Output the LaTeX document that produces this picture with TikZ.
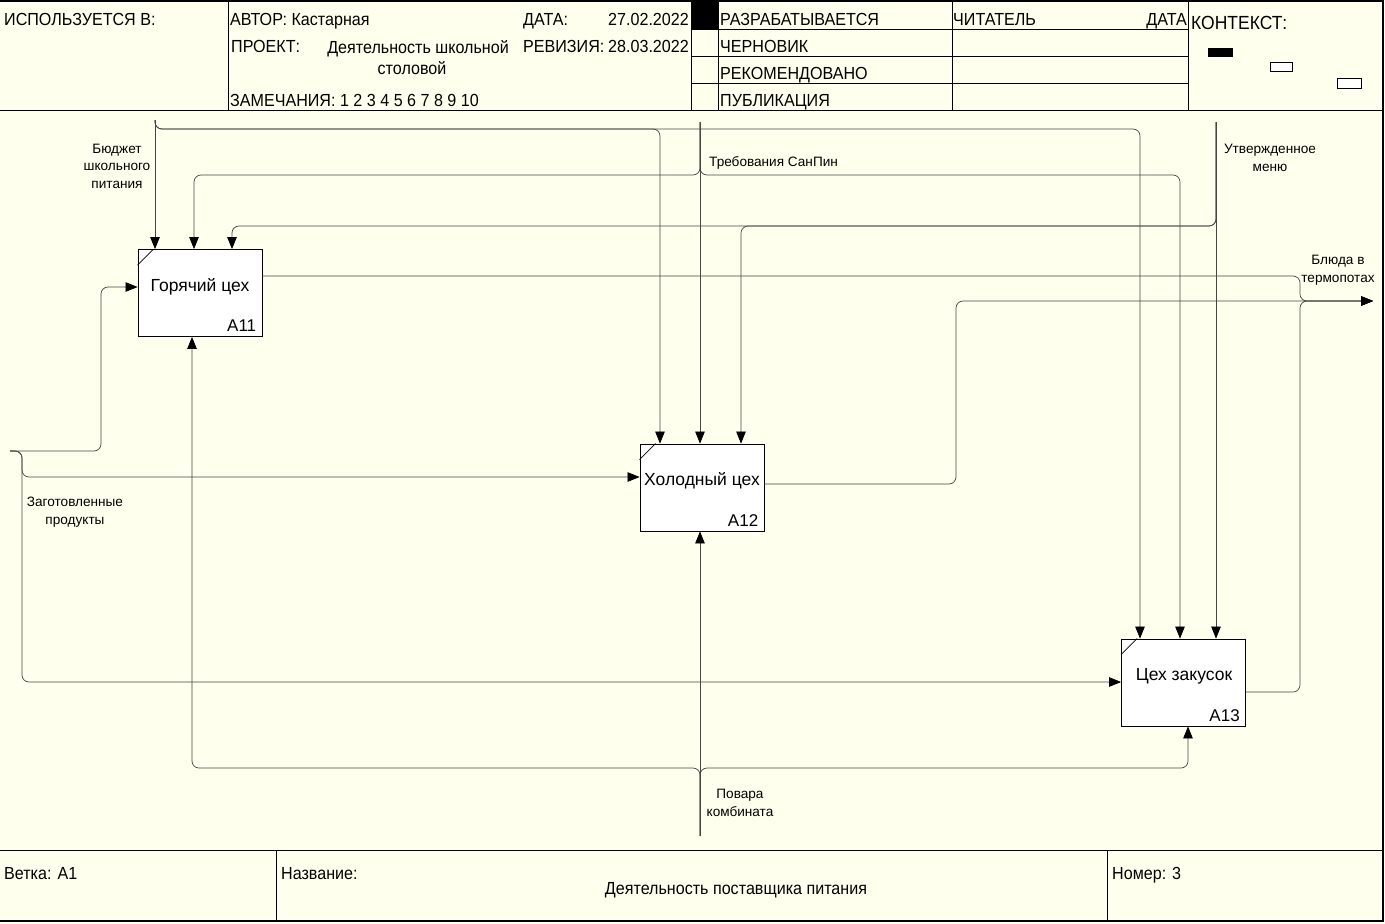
\documentclass[tikz,border=0pt]{standalone}
\usepackage{fontspec}
\setmainfont{Liberation Sans}
\newfontfamily\hdr[FakeStretch=0.92]{Liberation Sans}
\usetikzlibrary{arrows.meta}
\definecolor{bg}{RGB}{255,255,238}
\definecolor{ln}{RGB}{70,70,70}
\tikzset{
  frameline/.style={draw=black, line width=1.6pt},
  thinframe/.style={draw=black, line width=1pt},
  hdrtext/.style={inner sep=0pt, font=\hdr\fontsize{17.5}{20}\selectfont},
  ctxtext/.style={inner sep=0pt, font=\hdr\fontsize{19}{22}\selectfont},
  actbox/.style={draw=black, fill=white, line width=0.8pt, minimum width=124pt, minimum height=87pt, inner sep=0pt},
  boxname/.style={inner sep=0pt, font=\fontsize{17.5}{20}\selectfont},
  boxnum/.style={inner sep=0pt, font=\fontsize{17}{20}\selectfont, anchor=south east},
  arrlabel/.style={inner sep=0pt, align=center, font=\fontsize{13.6}{17.5}\selectfont},
  conn/.style={draw=ln, line width=0.7pt, rounded corners=7pt},
  arr/.style={conn, -{Triangle[length=12pt,width=9.5pt,color=black]}},
}
\begin{document}
\begin{tikzpicture}[x=1pt,y=-1pt]
\useasboundingbox (0,0) rectangle (1385,924);
\fill[bg] (0,0) rectangle (1385,924);

% ---------- frame ----------
\draw[frameline] (0,1) -- (1383,1) -- (1383,921) -- (0,921);
\draw[thinframe] (0,110) -- (1383,110);
\draw[thinframe] (228,1) -- (228,110);
\draw[thinframe] (691,1) -- (691,110);
\draw[thinframe] (718,1) -- (718,110);
\draw[thinframe] (952,1) -- (952,110);
\draw[thinframe] (1188,1) -- (1188,110);
\draw[thinframe] (691,29) -- (1188,29);
\draw[thinframe] (691,56) -- (1188,56);
\draw[thinframe] (691,83) -- (1188,83);
\fill[black] (691,1) rectangle (718,29);
% footer
\draw[thinframe] (0,850) -- (1383,850);
\draw[thinframe] (276,850) -- (276,921);
\draw[thinframe] (1107,850) -- (1107,921);

% ---------- header texts ----------
\node[hdrtext, anchor=base west] (used) at (4,25) {ИСПОЛЬЗУЕТСЯ В:};
\node[hdrtext, anchor=base west] (author) at (230,25) {АВТОР: Кастарная};
\node[hdrtext, anchor=base west] (datel) at (523,25) {ДАТА:};
\node[hdrtext, anchor=base east] (datev) at (689,25) {27.02.2022};
\node[hdrtext, anchor=base west] (projl) at (231,52) {ПРОЕКТ:};
\node[hdrtext, anchor=base east] (projv) at (509,53) {Деятельность школьной};
\node[hdrtext, anchor=base] (projv2) at (412,74) {столовой};
\node[hdrtext, anchor=base west] (rev) at (523,52) {РЕВИЗИЯ:};
\node[hdrtext, anchor=base east] (revv) at (689,52) {28.03.2022};
\node[hdrtext, anchor=base west] (notes) at (230,106) {ЗАМЕЧАНИЯ: 1 2 3 4 5 6 7 8 9 10};
\node[hdrtext, anchor=base west] (st1) at (720,25) {РАЗРАБАТЫВАЕТСЯ};
\node[hdrtext, anchor=base west] (st2) at (720,52) {ЧЕРНОВИК};
\node[hdrtext, anchor=base west] (st3) at (720,79) {РЕКОМЕНДОВАНО};
\node[hdrtext, anchor=base west] (st4) at (720,106) {ПУБЛИКАЦИЯ};
\node[hdrtext, anchor=base west] (reader) at (953,25) {ЧИТАТЕЛЬ};
\node[hdrtext, anchor=base east] (rdate) at (1187,25) {ДАТА};
\node[ctxtext, anchor=base west] (ctx) at (1191,29) {КОНТЕКСТ:};
\fill[black] (1208,48) rectangle (1233,57);
\draw[black, line width=0.8pt, fill=white] (1270,62) rectangle (1292,71);
\draw[black, line width=0.8pt, fill=white] (1337,78) rectangle (1361,88);

% ---------- footer texts ----------
\node[hdrtext, anchor=base west] (branch) at (4,879) {Ветка: А1};
\node[hdrtext, anchor=base west] (namel) at (281,879) {Название:};
\node[hdrtext, anchor=base] (namev) at (736,894) {Деятельность поставщика питания};
\node[hdrtext, anchor=base west] (num) at (1112,879) {Номер: 3};

% ---------- activity boxes ----------
\node[actbox] (A11) at (200,293) {};
\node[actbox] (A12) at (702,487.5) {};
\node[actbox] (A13) at (1183.5,682.5) {};
\foreach \b in {A11,A12,A13}{
  \draw[black, line width=0.7pt] ([yshift=-16pt]\b.north west) -- ([xshift=16pt]\b.north west);
}
\node[boxname] (n11) at (200,287) {Горячий цех};
\node[boxnum] (m11) at ([xshift=-6pt,yshift=5pt]A11.south east) {A11};
\node[boxname] (n12) at (702,481) {Холодный цех};
\node[boxnum] (m12) at ([xshift=-6pt,yshift=5pt]A12.south east) {A12};
\node[boxname] (n13) at (1184,676) {Цех закусок};
\node[boxnum] (m13) at ([xshift=-6pt,yshift=5pt]A13.south east) {A13};

% ---------- free ends ----------
\coordinate (bud) at (155,120);
\coordinate (req) at (700,122);
\coordinate (menu) at (1216,122);
\coordinate (prod) at (10,451);
\coordinate (cook) at (700,836);
\coordinate (out) at (1373,301);

% ---------- controls ----------
\draw[arr] (bud) -- (bud |- A11.north);
\draw[arr] (bud) -- (155,129) -- (660,129) -- (660,0 |- A12.north);
\draw[arr] (bud) -- (155,129) -- (1140,129) -- (1140,0 |- A13.north);

\draw[arr] (req) -- (req |- A12.north);
\draw[arr] (req) -- (700,175) -- (194,175) -- (194,0 |- A11.north);
\draw[arr] (req) -- (700,175) -- (1180,175) -- (1180,0 |- A13.north);

\draw[arr] (menu) -- (menu |- A13.north);
\draw[arr] (menu) -- (1216,226) -- (232,226) -- (232,0 |- A11.north);
\draw[arr] (menu) -- (1216,226) -- (741,226) -- (741,0 |- A12.north);

% ---------- inputs ----------
\draw[arr] (prod) -- (101,451) -- (101,287) -- (A11.west |- 0,287);
\draw[arr] (prod) -- (22,451) -- (22,477) -- (A12.west |- 0,477);
\draw[arr] (prod) -- (22,451) -- (22,682) -- (A13.west |- 0,682);

% ---------- mechanisms ----------
\draw[arr] (cook) -- (cook |- A12.south);
\draw[arr] (cook) -- (700,768) -- (192,768) -- (192,0 |- A11.south);
\draw[arr] (cook) -- (700,768) -- (1188,768) -- (1188,0 |- A13.south);

% ---------- outputs ----------
\draw[arr] (A11.east |- 0,276) -- (1300,276) -- (1300,301) -- (out);
\draw[arr] (A12.east |- 0,484) -- (956,484) -- (956,301) -- (out);
\draw[arr] (A13.east |- 0,692) -- (1300,692) -- (1300,301) -- (out);

% ---------- labels ----------
\node[arrlabel] (lbud) at (117,166) {Бюджет\\школьного\\питания};
\node[arrlabel, anchor=west] (lreq) at (709,163) {Требования СанПин};
\node[arrlabel] (lmenu) at (1270,158) {Утвержденное\\меню};
\node[arrlabel] (lprod) at (75,512) {Заготовленные\\продукты};
\node[arrlabel] (lcook) at (740,803) {Повара\\комбината};
\node[arrlabel] (lout) at (1338,270) {Блюда в\\термопотах};
\end{tikzpicture}
\end{document}
